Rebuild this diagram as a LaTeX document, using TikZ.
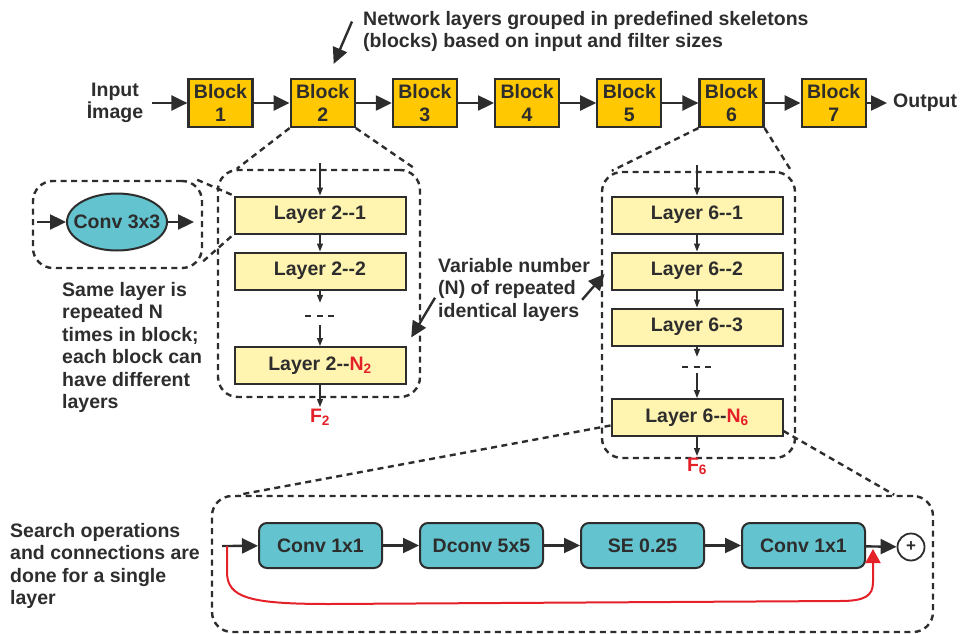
\documentclass[tikz,border=0pt]{standalone}
\usepackage{fontspec}
\setmainfont{Liberation Sans}
\usepackage{xcolor}
\usetikzlibrary{arrows.meta,positioning,shapes.geometric,calc}
\definecolor{ink}{RGB}{45,45,45}
\definecolor{blockgold}{RGB}{255,200,0}
\definecolor{layeryellow}{RGB}{255,244,176}
\definecolor{opteal}{RGB}{99,195,207}
\definecolor{skipred}{RGB}{228,32,40}

\begin{document}
\begin{tikzpicture}[
  x=1pt,y=-1pt,
  node distance=36pt,
  font=\fontsize{19.5}{22.5}\selectfont\bfseries,
  every node/.style={text=ink},
  block/.style={draw=ink,line width=2.2pt,fill=blockgold,minimum width=64pt,minimum height=48pt,inner sep=0pt,align=center},
  layer/.style={draw=ink,line width=2pt,fill=layeryellow,minimum width=171pt,minimum height=37pt,inner sep=0pt},
  op/.style={draw=ink,line width=2pt,fill=opteal,rounded corners=8pt,minimum width=123pt,minimum height=45pt,inner sep=0pt},
  group/.style={draw=ink,line width=2.4pt,dash pattern=on 6pt off 4.5pt,rounded corners=20pt,inner sep=0pt},
  zoomline/.style={draw=ink,line width=2.4pt,dash pattern=on 6pt off 4.5pt},
  note/.style={inner sep=0pt,align=left},
  flabel/.style={inner sep=2pt,text=skipred},
  bigarrow/.style={draw=ink,line width=2.4pt,-{Triangle[length=16pt,width=15pt]}},
  smallarrow/.style={draw=ink,line width=1.3pt,-{Triangle[length=8pt,width=6pt]}},
  skiparrow/.style={draw=skipred,line width=2pt,-{Triangle[length=14pt,width=15pt]}},
  gapdash/.style={draw=ink,line width=1.8pt,dash pattern=on 6pt off 5.5pt}
]
\useasboundingbox (0,0) rectangle (961,634);

% top row of blocks
\node[block] (b1) at (220.5,103) {Block\\1};
\node[block,right=of b1] (b2) {Block\\2};
\node[block,right=of b2] (b3) {Block\\3};
\node[block,right=of b3] (b4) {Block\\4};
\node[block,right=of b4] (b5) {Block\\5};
\node[block,right=of b5] (b6) {Block\\6};
\node[block,right=of b6] (b7) {Block\\7};
\node[note,align=center] (input) at (115,103) {Input\\İmage};
\node[note,anchor=west] (output) at (893,103) {Output};
\draw[bigarrow] ([xshift=9pt]input.east) -- (b1);
\draw[bigarrow] (b1) -- (b2);
\draw[bigarrow] (b2) -- (b3);
\draw[bigarrow] (b3) -- (b4);
\draw[bigarrow] (b4) -- (b5);
\draw[bigarrow] (b5) -- (b6);
\draw[bigarrow] (b6) -- (b7);
\draw[bigarrow] (b7) -- ([xshift=-6pt]output.west);

\node[note,anchor=north west] (toptxt) at (363,11) {Network layers grouped in predefined skeletons\\(blocks) based on input and filter sizes};
\draw[bigarrow] ($(toptxt.west)+(-11,-10)$) -- ($(b2.north)+(11,-14)$);

% block 2 expanded
\node[group,minimum width=202pt,minimum height=227pt] (g2) at (319,283.5) {};
\node[layer] (l21) at (320,215) {Layer 2-{}-1};
\node[layer,below=17pt of l21] (l22) {Layer 2-{}-2};
\node[layer] (l2n) at (320,365.5) {Layer 2-{}-\textcolor{skipred}{N\textsubscript{2}}};
\node[inner sep=0pt,minimum width=29pt,minimum height=22pt] (gap2) at (320,314) {};
\node[flabel,anchor=north] (f2) at (320,407) {F\textsubscript{2}};
\coordinate (in2) at (320,163);
\draw[smallarrow] (in2) -- (l21);
\draw[smallarrow] (l21) -- (l22);
\draw[smallarrow] (l22) -- (gap2);
\draw[gapdash] ([yshift=-2pt]gap2.west) -- ([yshift=-2pt]gap2.east);
\draw[smallarrow] (gap2) -- (l2n);
\draw[smallarrow] (l2n) -- (f2);
\draw[zoomline] (b2.south west) -- ([xshift=20pt]g2.north west);
\draw[zoomline] (b2.south east) -- ([xshift=-6pt]g2.north east);

% single layer detail
\node[group,minimum width=169pt,minimum height=87pt] (gconv) at (117.5,224.5) {};
\node[ellipse,draw=ink,line width=2pt,fill=opteal,minimum width=100pt,minimum height=57pt,inner sep=0pt] (c33) at (117,222) {\makebox[0pt]{Conv 3x3}};
\coordinate (cin) at (37,222);
\coordinate (cout) at (194,222);
\draw[bigarrow] (cin) -- (c33);
\draw[bigarrow] (c33) -- (cout);
\draw[zoomline] ([xshift=-6pt]gconv.north east) -- (l21.north west);
\draw[zoomline] ([yshift=8pt]gconv.south east) -- (l21.south west);
\node[note,anchor=north west] (sametxt) at (62,282) {Same layer is\\repeated N\\times in block;\\each block can\\have different\\layers};

% block 6 expanded
\node[group,minimum width=193pt,minimum height=286pt] (g6) at (698.5,315) {};
\node[layer] (l61) at (697,215) {Layer 6-{}-1};
\node[layer,below=17pt of l61] (l62) {Layer 6-{}-2};
\node[layer,below=17pt of l62] (l63) {Layer 6-{}-3};
\node[inner sep=0pt,minimum width=29pt,minimum height=16pt] (gap6) at (697,365) {};
\node[layer] (l6n) at (697,417.5) {Layer 6-{}-\textcolor{skipred}{N\textsubscript{6}}};
\node[flabel,anchor=north] (f6) at (697,456) {F\textsubscript{6}};
\coordinate (in6) at (697,165);
\draw[smallarrow] (in6) -- (l61);
\draw[smallarrow] (l61) -- (l62);
\draw[smallarrow] (l62) -- (l63);
\draw[smallarrow] (l63) -- (gap6);
\draw[gapdash] ([yshift=-2pt]gap6.west) -- ([yshift=-2pt]gap6.east);
\draw[smallarrow] (gap6) -- (l6n);
\draw[smallarrow] (l6n) -- (f6);
\draw[zoomline] (b6.south west) -- ([xshift=11pt]g6.north west);
\draw[zoomline] (b6.south east) -- ([xshift=-5pt]g6.north east);

\node[note,anchor=north west] (vartxt) at (438,258) {Variable number\\(N) of repeated\\identical layers};
\draw[bigarrow] ($(vartxt.east)+(-8,10)$) -- ($(l62.west)+(-6,3)$);
\draw[bigarrow] ($(vartxt.west)+(-3,8)$) -- ($(g2.east)+(-10,54)$);

% search space of one layer
\node[group,minimum width=721pt,minimum height=136pt] (gbot) at (572.5,564) {};
\draw[zoomline] ([yshift=-8pt]l6n.west) -- ([xshift=28pt]gbot.north west);
\draw[zoomline] ([yshift=6pt]l6n.south east) -- ([xshift=-40pt]gbot.north east);
\node[op] (c1) at (320.5,545.5) {Conv 1x1};
\node[op,right=of c1] (dconv) {Dconv 5x5};
\node[op,right=of dconv] (se) {SE 0.25};
\node[op,right=of se] (c2) {Conv 1x1};
\node[circle,draw=ink,line width=1.8pt,minimum size=27pt,inner sep=0pt,font=\fontsize{17}{17}\selectfont\bfseries] (add) at (911,547) {+};
\coordinate (opin) at (222,546);
\draw[bigarrow] (opin) -- (c1);
\draw[bigarrow] (c1) -- (dconv);
\draw[bigarrow] (dconv) -- (se);
\draw[bigarrow] (se) -- (c2);
\draw[bigarrow] (c2) -- (add);
\coordinate (skipstart) at (227,546);
\coordinate (skipend) at (873,549);
\draw[skiparrow] (skipstart) -- ++(0,26) .. controls +(0,26) and +(-80,0) .. (330,604) -- (840,601) .. controls +(25,0) and +(0,14) .. (873,582) -- (skipend);
\node[note,anchor=north west] (searchtxt) at (10,523) {Search operations\\and connections are\\done for a single\\layer};
\end{tikzpicture}
\end{document}
